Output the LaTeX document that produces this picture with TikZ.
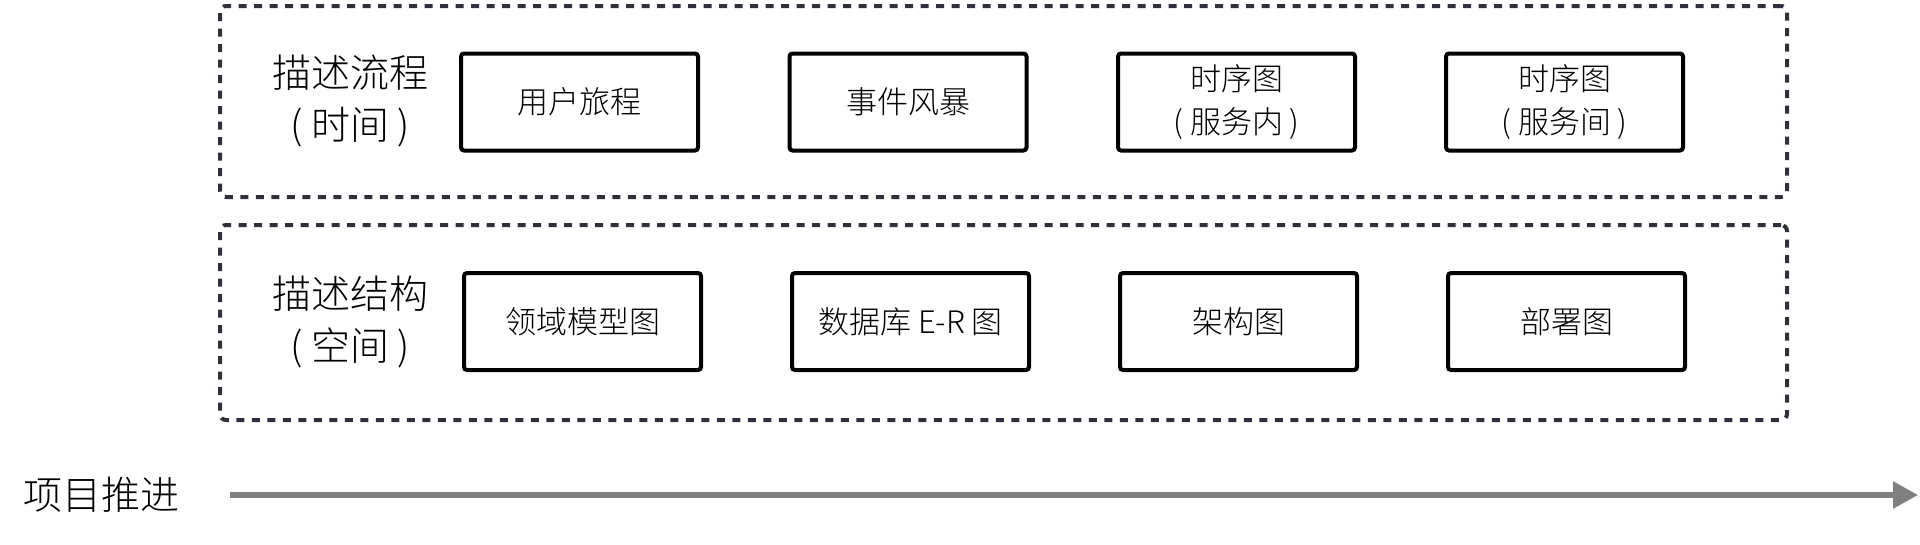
\documentclass[tikz,border=0pt]{standalone}
\usepackage{fontspec}
\setmainfont{Noto Sans CJK SC Light}
\usetikzlibrary{arrows.meta}
\definecolor{dashc}{RGB}{44,49,60}
\definecolor{arrowc}{RGB}{128,128,128}
\newcommand{\lp}{(\hspace{.22em}}
\newcommand{\rp}{\hspace{.22em})}
\begin{document}
\begin{tikzpicture}[x=1pt,y=-1pt,
  group/.style={draw=dashc, line width=4pt, dash pattern=on 8pt off 7.5pt, rounded corners=6pt, minimum width=1567pt, inner sep=0pt},
  item/.style={draw=black, line width=4pt, rounded corners=3pt, minimum width=237pt, minimum height=97pt, font=\fontsize{31}{43}\selectfont, align=center, inner sep=0pt},
  side/.style={font=\fontsize{39}{52}\selectfont, align=center, inner sep=0pt},
  axis/.style={draw=arrowc, line width=5.5pt, -{Triangle[length=25pt,width=26pt]}}
]
\useasboundingbox (0,0) rectangle (1920,544);
\node[group, minimum height=191pt] (g1) at (1003.5,101.5) {};
\node[group, minimum height=195pt] (g2) at (1003.5,322.5) {};

\node[side] (l1) at (350,101) {描述流程\\\lp 时间\rp};
\node[side] (l2) at (350,322) {描述结构\\\lp 空间\rp};

\node[item] (a1) at (579.5,102) {用户旅程};
\node[item] (a2) at (908,102) {事件风暴};
\node[item] (a3) at (1236.5,102) {时序图\\\lp 服务内\rp};
\node[item] (a4) at (1564.5,102) {时序图\\\lp 服务间\rp};

\node[item] (b1) at (582.5,321.5) {领域模型图};
\node[item] (b2) at (910.5,321.5) {数据库 E-R 图};
\node[item] (b3) at (1238.5,321.5) {架构图};
\node[item] (b4) at (1566.5,321.5) {部署图};

\node[side] (p) at (101.5,495) {项目推进};
\coordinate (s) at (230,495);
\coordinate (e) at (1918,495);
\draw[axis] (s) -- (e);
\end{tikzpicture}
\end{document}
